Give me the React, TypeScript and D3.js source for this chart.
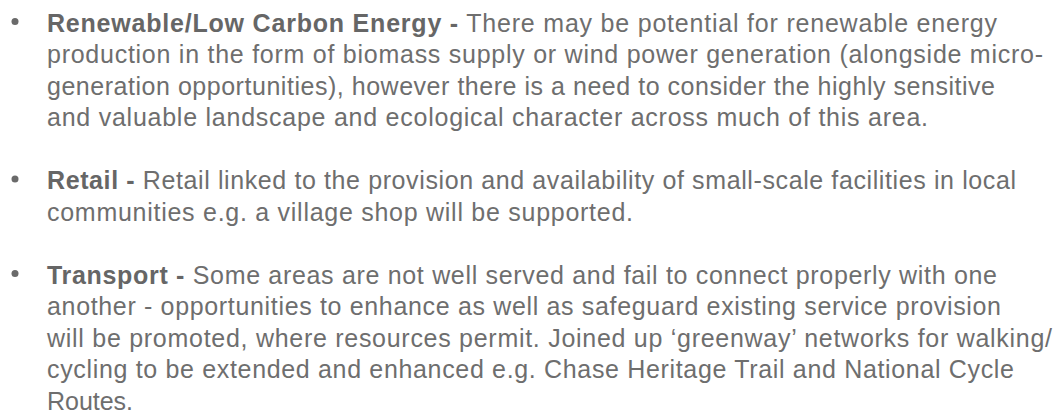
import React from "react";
import * as d3 from "d3";

// ---- content ----
const headings = ["Renewable/Low Carbon Energy -", "Retail -", "Transport -"];

const renewableLines = [
  "There may be potential for renewable energy",
  "production in the form of biomass supply or wind power generation (alongside micro-",
  "generation opportunities), however there is a need to consider the highly sensitive",
  "and valuable landscape and ecological character across much of this area.",
];

const retailLines = [
  "Retail linked to the provision and availability of small-scale facilities in local",
  "communities e.g. a village shop will be supported.",
];

const transportLines = [
  "Some areas are not well served and fail to connect properly with one",
  "another - opportunities to enhance as well as safeguard existing service provision",
  "will be promoted, where resources permit. Joined up \u2018greenway\u2019 networks for walking/",
  "cycling to be extended and enhanced e.g. Chase Heritage Trail and National Cycle",
  "Routes.",
];

const blocks = [renewableLines, retailLines, transportLines];

// ---- layout (not data) ----
const W = 1061;
const H = 417;
const TEXT_X = 47;
const BULLET_X = 15;
const START_SLOTS = [0, 5, 8];
const LINE_RIGHT = [
  [997, 1043, 995, 928],
  [1016, 633],
  [997, 1001, 1052, 1014, 133],
];

export default function App() {
  const y = d3.scaleLinear().domain([0, 12]).range([31.5, 409.5]);
  const font = "'Liberation Sans', Arial, Helvetica, sans-serif";
  return (
    <svg
      width={W}
      height={H}
      style={{ position: "absolute", left: 0, top: 0, background: "#fff" }}
      fontFamily={font}
      fontSize={25}
    >
      {blocks.map((lines, bi) => (
        <g key={bi}>
          <circle cx={BULLET_X} cy={y(START_SLOTS[bi]) - 10} r={3.5} fill="#6a6a6a" />
          {lines.map((line, li) => {
            const slot = START_SLOTS[bi] + li;
            const len = LINE_RIGHT[bi][li] - TEXT_X;
            return (
              <text
                key={li}
                x={TEXT_X}
                y={y(slot)}
                fill="#6e6e6e"
                textLength={len}
                lengthAdjust="spacing"
              >
                {li === 0 ? (
                  <>
                    <tspan fontWeight="bold" fill="#666">
                      {headings[bi]}
                    </tspan>
                    <tspan>{" " + line}</tspan>
                  </>
                ) : (
                  line
                )}
              </text>
            );
          })}
        </g>
      ))}
    </svg>
  );
}
